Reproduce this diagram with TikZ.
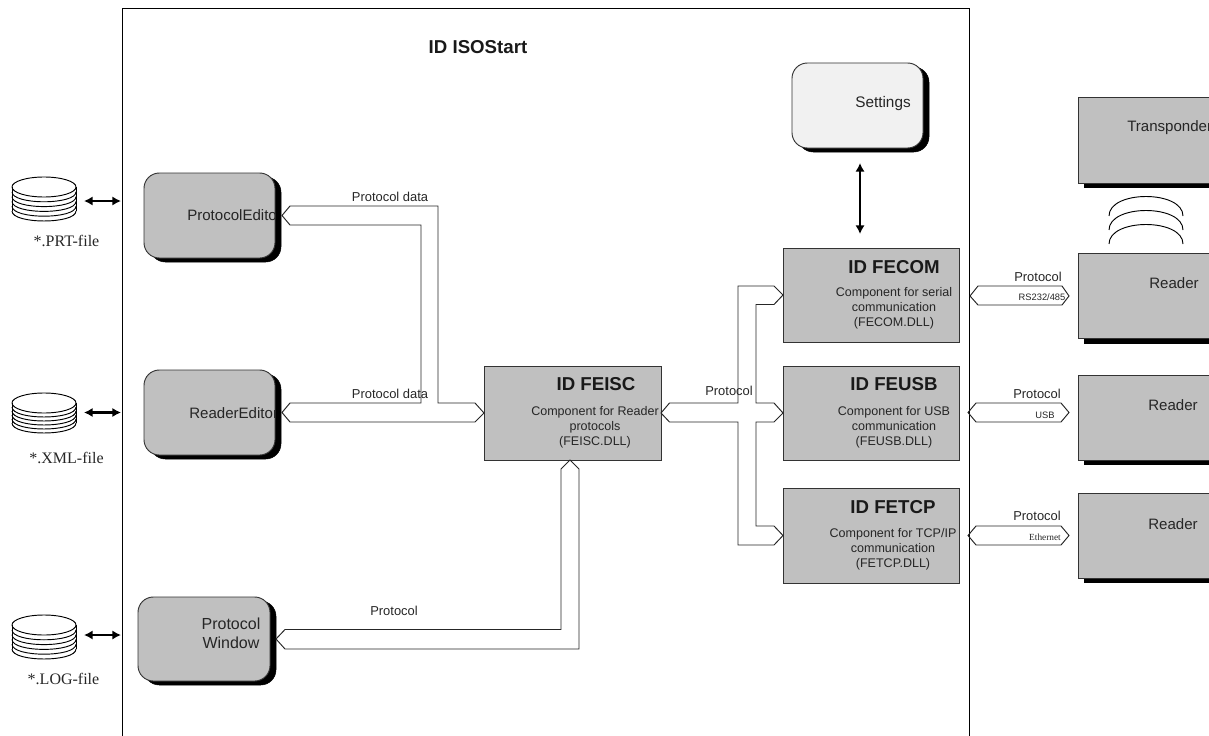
\documentclass[tikz,border=0pt]{standalone}
\usepackage{fontspec}
\setmainfont{Liberation Sans}
\newfontfamily\serifdoc{Liberation Serif}
\usetikzlibrary{arrows.meta}
\newcommand{\pxfont}[2]{\fontsize{#1}{#2}\selectfont}
\tikzset{
  x=0.75pt, y=-0.75pt,
  ln/.style={draw=black!80, line width=0.7pt},
  blockbox/.style={ln, fill=boxgray, inner sep=0pt, outer sep=0pt},
  softbox/.style={blockbox, rounded corners=11.5pt},
  shade/.style={fill=black, draw=black, line width=0.4pt},
  softshade/.style={shade, rounded corners=11.5pt},
  bus/.style={draw=black!85, line width=0.72pt, line join=miter},
  dbl/.style={line width=1.6pt, {Latex[length=6.5pt,width=7pt]}-{Latex[length=6.5pt,width=7pt]}},
  lbl/.style={font=\pxfont{9.7}{11}, text=black!85, inner sep=0pt},
  big/.style={font=\pxfont{11.3}{13}, text=black!85, inner sep=0pt, align=center},
  ttl/.style={font=\bfseries\pxfont{14}{16}, text=black!90, inner sep=0pt},
  desc/.style={font=\pxfont{9.4}{11.2}, text=black!85, inner sep=0pt, align=center},
  filelbl/.style={font=\serifdoc\pxfont{12}{14}, text=black!85, inner sep=0pt},
}
\definecolor{boxgray}{HTML}{C0C0C0}
\definecolor{lightbox}{HTML}{F1F1F1}
% name, x1, y1, x2, y2, style
\newcommand{\blockat}[6]{%
  \node[#6, minimum width={((#4)-(#2))*0.75pt}, minimum height={((#5)-(#3))*0.75pt}]
    (#1) at ({((#2)+(#4))/2},{((#3)+(#5))/2}) {};}
% cx, top y, spacing
\newcommand{\diskstack}[3]{%
  \draw[line width=0.7pt] ({#1},{#2+10}) ellipse [x radius=32, y radius=10];
  \foreach \k in {1,...,5}{
    \draw[line width=0.7pt] ({#1-32},{#2+10+\k*#3}) .. controls ({#1-32},{#2+23.3+\k*#3}) and ({#1+32},{#2+23.3+\k*#3}) .. ({#1+32},{#2+10+\k*#3});
  }
  \draw[line width=0.7pt] ({#1-32},{#2+10}) -- ({#1-32},{#2+10+5*#3});
  \draw[line width=0.7pt] ({#1+32},{#2+10}) -- ({#1+32},{#2+10+5*#3});
}
\begin{document}
\begin{tikzpicture}
\useasboundingbox (0,0) rectangle (1209,735);
\clip (0,0) rectangle (1209,735);

% main frame
\coordinate (fTL) at (122,8);
\coordinate (fTR) at (969,8);
\coordinate (fBL) at (122,740);
\coordinate (fBR) at (969,740);
\draw[line width=0.72pt, black] (fBL) -- (fTL) -- (fTR) -- (fBR);
\node[ttl] (title) at (478,47) {ID ISOStart};

% file stores
\diskstack{44}{177}{4.8}
\diskstack{44}{393}{4}
\diskstack{44}{615}{4.8}
\node[filelbl] (prt) at (66.5,241) {*.PRT-file};
\node[filelbl] (xml) at (66.5,458) {*.XML-file};
\node[filelbl] (log) at (63.5,679) {*.LOG-file};
\coordinate (dP) at (84,201); \coordinate (fP) at (121,201);
\coordinate (dX) at (84,412.5); \coordinate (fX) at (121,412.5);
\coordinate (dL) at (84,635); \coordinate (fL) at (121,635);
\draw[dbl] (dP) -- (fP);
\draw[dbl] (dX) -- (fX);
\draw[dbl] (dL) -- (fL);

% rounded application boxes
\blockat{peS}{150}{177}{281}{262}{softshade}
\blockat{pe}{144}{173}{275}{258}{softbox}
\blockat{reS}{150}{374}{281}{459}{softshade}
\blockat{re}{144}{370}{275}{455}{softbox}
\blockat{pwS}{144}{601}{276}{685}{softshade}
\blockat{pw}{138}{597}{270}{681}{softbox}
\blockat{setS}{798}{67}{929}{152}{softshade}
\blockat{set}{792}{63}{923}{148}{softbox, fill=lightbox}
\begin{scope}
  \clip (pe.north west) rectangle (pe.south east);
  \node[big, anchor=west] (peT) at (187,215) {ProtocolEditor};
\end{scope}
\begin{scope}
  \clip (re.north west) rectangle (re.south east);
  \node[big, anchor=west] (reT) at (189,413) {ReaderEditor};
\end{scope}
\node[big, font=\pxfont{12}{14.3}] (pwT) at (231,633.5) {Protocol\\Window};
\node[big, font=\pxfont{11.5}{13}] (setT) at (883,104) {Settings};

% DLL blocks
\blockat{feisc}{484}{366}{661}{460}{blockbox}
\blockat{fecom}{783}{248}{959}{342}{blockbox}
\blockat{feusb}{783}{366}{959}{460}{blockbox}
\blockat{fetcp}{783}{488}{959}{583}{blockbox}
\node[ttl] (t1) at (596,384) {ID FEISC};
\node[ttl] (t2) at (894,267) {ID FECOM};
\node[ttl] (t3) at (894,384) {ID FEUSB};
\node[ttl] (t4) at (893,507) {ID FETCP};
\node[desc] (d1) at (595,427) {Component for Reader\\protocols\\(FEISC.DLL)};
\node[desc] (d2) at (894,308) {Component for serial\\communication\\(FECOM.DLL)};
\node[desc] (d3) at (894,427) {Component for USB\\communication\\(FEUSB.DLL)};
\node[desc] (d4) at (893,549) {Component for TCP/IP\\communication\\(FETCP.DLL)};

% readers and transponder
\blockat{trS}{1084}{101}{1225}{187}{shade}
\blockat{tr}{1078}{97}{1225}{183}{blockbox}
\blockat{r1S}{1084}{257}{1225}{343}{shade}
\blockat{r1}{1078}{253}{1225}{338}{blockbox}
\blockat{r2S}{1084}{379}{1225}{464}{shade}
\blockat{r2}{1078}{375}{1225}{460}{blockbox}
\blockat{r3S}{1084}{497}{1225}{582}{shade}
\blockat{r3}{1078}{493}{1225}{578}{blockbox}
\node[big, anchor=west] (trT) at (1127,128) {Transponder};
\node[big] (r1T) at (1174,283.5) {Reader};
\node[big] (r2T) at (1173,405.5) {Reader};
\node[big] (r3T) at (1173,524.5) {Reader};

% radio waves
\foreach \dy in {0,14,28}{
  \draw[line width=0.7pt] (1109,216+\dy) .. controls (1109,190+\dy) and (1183,190+\dy) .. (1183,216+\dy);
}

% settings link
\coordinate (sA) at (860,163);
\coordinate (sB) at (860,234);
\draw[dbl] (sA) -- (sB);

% wide protocol buses
\coordinate (tPE) at (282,215.5);
\coordinate (tRE) at (282,412.5);
\coordinate (tFW) at (feisc.west);
\draw[bus] (tPE) -- (290,206) -- (438,206) -- (438,403) -- (475,403) -- (tFW) -- (475,422)
  -- (290,422) -- (tRE) -- (290,403) -- (421,403) -- (421,225) -- (290,225) -- cycle;

\coordinate (tFE) at (feisc.east);
\coordinate (tC) at (783,295);
\coordinate (tU) at (feusb.west);
\coordinate (tT) at (783,535.5);
\draw[bus] (tFE) -- (669.5,403) -- (738,403) -- (738,286) -- (774,286) -- (tC) -- (774,304.5)
  -- (756,304.5) -- (756,403) -- (774,403) -- (tU) -- (774,422) -- (756,422) -- (756,526)
  -- (774,526) -- (tT) -- (774,545) -- (738,545) -- (738,422) -- (669.5,422) -- cycle;

\coordinate (tFS) at (feisc.south -| 570,0);
\coordinate (tPW) at (276,639);
\draw[bus] (tFS) -- (579,469) -- (579,649) -- (285,649) -- (tPW) -- (285,629.5) -- (561,629.5) -- (561,469) -- cycle;

% reader links
\coordinate (a1L) at (970,296); \coordinate (a1R) at (1069,296);
\coordinate (a2L) at (968,412.5); \coordinate (a2R) at (1069,412.5);
\coordinate (a3L) at (968,535.5); \coordinate (a3R) at (1069,535.5);
\draw[bus] (a1L) -- (978,286) -- (1062,286) -- (a1R) -- (1062,305) -- (978,305) -- cycle;
\draw[bus] (a2L) -- (976,403) -- (1061,403) -- (a2R) -- (1061,422) -- (976,422) -- cycle;
\draw[bus] (a3L) -- (976,526) -- (1061,526) -- (a3R) -- (1061,545) -- (976,545) -- cycle;

% labels
\node[lbl] (l1) at (390,197) {Protocol data};
\node[lbl] (l2) at (390,394) {Protocol data};
\node[lbl] (l3) at (729,391) {Protocol};
\node[lbl] (l4) at (394,611) {Protocol};
\node[lbl] (l5) at (1038,277) {Protocol};
\node[lbl] (l6) at (1037,394) {Protocol};
\node[lbl] (l7) at (1037,516) {Protocol};
\node[lbl, font=\pxfont{7}{8}] (s1) at (1042,297) {RS232/485};
\node[lbl, font=\pxfont{7}{8}] (s2) at (1045,415) {USB};
\node[lbl, font=\serifdoc\pxfont{7}{8}] (s3) at (1045,537) {Ethernet};
\end{tikzpicture}
\end{document}
